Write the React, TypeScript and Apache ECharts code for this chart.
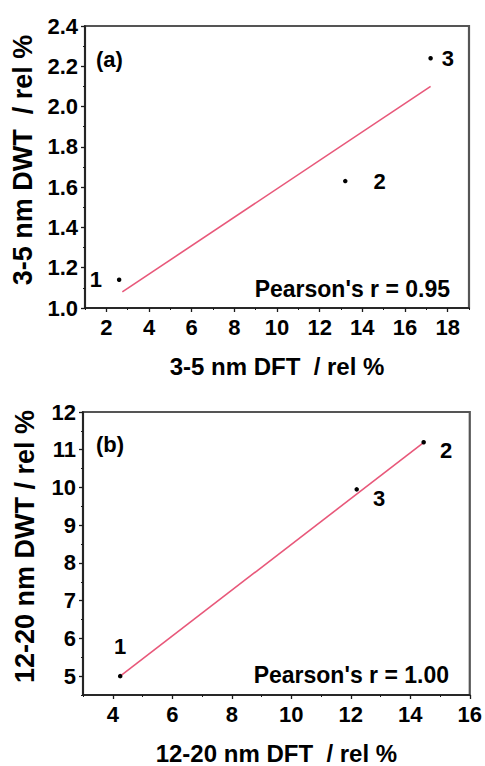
import React, { useEffect, useRef } from "react";
import * as echarts from "echarts";

// ---- Panel (a): 3-5 nm ----
const pointsA: [number, number][] = [
  [2.6, 1.14],
  [13.2, 1.63],
  [17.2, 2.24],
];
const pointNamesA = ["1", "2", "3"];
const fitA: [number, number][] = [
  [2.75, 1.08],
  [17.2, 2.1],
];
const xTicksA = [2, 4, 6, 8, 10, 12, 14, 16, 18];
const xMinorA = [1, 3, 5, 7, 9, 11, 13, 15, 17, 19];
const yRangeA = [1.0, 2.4];
const yStepA = 0.2;
const pearsonA = "Pearson's r = 0.95";

// ---- Panel (b): 12-20 nm ----
const pointsB: [number, number][] = [
  [4.25, 5.0],
  [14.45, 11.2],
  [12.2, 9.95],
];
const pointNamesB = ["1", "2", "3"];
const fitB: [number, number][] = [
  [4.25, 5.0],
  [14.5, 11.22],
];
const xTicksB = [4, 6, 8, 10, 12, 14, 16];
const xMinorB = [3, 5, 7, 9, 11, 13, 15];
const yTicksB = [5, 6, 7, 8, 9, 10, 11, 12];
const yMinorB = [4.5, 5.5, 6.5, 7.5, 8.5, 9.5, 10.5, 11.5];
const pearsonB = "Pearson's r = 1.00";

const FONT = "'Liberation Sans', Arial, Helvetica, sans-serif";
const TXT = "#000";
const AXIS = "#1a1a1a";
const FRAME = "#555";
const FIT = "#e8587a";

// label placements (style only)
const labelPlaceA = [
  { position: "left", distance: 15, offset: [0, 0] },
  { position: "right", distance: 26, offset: [0, 0] },
  { position: "right", distance: 9, offset: [0, 0] },
];
const labelPlaceB = [
  { position: "top", distance: 16, offset: [0, 0] },
  { position: "right", distance: 14, offset: [0, 8] },
  { position: "right", distance: 14, offset: [0, 9] },
];

const noBorder = { textBorderWidth: 0, textBorderColor: "transparent", textShadowBlur: 0, textShadowColor: "transparent" };
const boldRich = {
  b: { fontFamily: FONT, fontWeight: "bold", fontSize: 22, color: TXT, opacity: 1, ...noBorder },
};
const xNameStyle = { fontFamily: FONT, fontWeight: 700, fontSize: 24, color: TXT };
const yNameStyle = { fontFamily: FONT, fontWeight: 700, fontSize: 27, color: TXT, padding: [0, 0, 0, 14] };
const axisLabelBase = {
  color: TXT,
  opacity: 1,
  fontFamily: FONT,
  fontWeight: "bold",
  fontSize: 22,
  ...noBorder,
  rich: boldRich,
};

function mainX(gridIndex: number, min: number, max: number, ticks: number[], name: string) {
  return {
    type: "value",
    gridIndex,
    min,
    max,
    position: "bottom",
    name,
    nameLocation: "middle",
    nameGap: 46,
    nameTextStyle: xNameStyle,
    axisLine: { show: true, lineStyle: { color: AXIS, width: 1.6 } },
    axisTick: { show: true, customValues: ticks, length: 4, lineStyle: { color: AXIS, width: 1.3 } },
    axisLabel: {
      ...axisLabelBase,
      customValues: ticks,
      margin: 8,
      formatter: (v: number) => `{b|${v}}`,
    },
    splitLine: { show: false },
  };
}
function minorX(gridIndex: number, min: number, max: number, ticks: number[]) {
  return {
    type: "value",
    gridIndex,
    min,
    max,
    position: "bottom",
    axisLine: { show: false },
    axisTick: { show: true, customValues: ticks, length: 2, lineStyle: { color: AXIS, width: 1 } },
    axisLabel: { show: false },
    splitLine: { show: false },
  };
}

export default function App() {
  const ref = useRef<HTMLDivElement>(null);
  useEffect(() => {
    document.body.style.margin = "0";
    if (!ref.current) return;
    const chart = echarts.init(ref.current, undefined, { renderer: "svg" });

    const mkScatter = (
      pts: [number, number][],
      names: string[],
      place: any[],
      xi: number,
      yi: number
    ) => ({
      type: "scatter",
      xAxisIndex: xi,
      yAxisIndex: yi,
      symbolSize: 4.5,
      itemStyle: { color: "#000", opacity: 1 },
      z: 5,
      data: pts.map((p, i) => ({
        value: p,
        label: {
          show: true,
          formatter: `{b|${names[i]}}`,
          rich: boldRich,
          position: place[i].position,
          distance: place[i].distance,
          offset: place[i].offset,
          color: TXT,
        },
      })),
    });

    const mkLine = (pts: [number, number][], xi: number, yi: number) => ({
      type: "line",
      xAxisIndex: xi,
      yAxisIndex: yi,
      data: pts,
      showSymbol: false,
      symbol: "none",
      lineStyle: { color: FIT, width: 1.6 },
      z: 3,
    });

    chart.setOption({
      animation: false,
      backgroundColor: "#fff",
      textStyle: { fontFamily: FONT, fontWeight: 700, color: TXT },
      grid: [
        { left: 85, top: 26, width: 384, height: 282, show: true, borderColor: FRAME, borderWidth: 2.2 },
        { left: 83, top: 412, width: 387, height: 283, show: true, borderColor: FRAME, borderWidth: 2.2 },
      ],
      xAxis: [
        mainX(0, 1, 19, xTicksA, "3-5 nm DFT  / rel %"),
        minorX(0, 1, 19, xMinorA),
        mainX(1, 3, 16, xTicksB, "12-20 nm DFT  / rel %"),
        minorX(1, 3, 16, xMinorB),
      ],
      yAxis: [
        {
          type: "value",
          gridIndex: 0,
          min: yRangeA[0],
          max: yRangeA[1],
          interval: yStepA,
          name: "3-5 nm DWT  / rel %",
          nameLocation: "middle",
          nameGap: 49,
          nameTextStyle: yNameStyle,
          axisLine: { show: true, lineStyle: { color: AXIS, width: 1.6 } },
          axisTick: { show: true, length: 4, lineStyle: { color: AXIS, width: 1.3 } },
          minorTick: { show: true, splitNumber: 2, length: 2, lineStyle: { color: AXIS, width: 1 } },
          axisLabel: {
            ...axisLabelBase,
            margin: 7,
            formatter: (v: number) => `{b|${v.toFixed(1)}}`,
          },
          splitLine: { show: false },
          minorSplitLine: { show: false },
        },
        {
          type: "value",
          gridIndex: 1,
          min: 4.5,
          max: 12,
          name: "12-20 nm DWT / rel %",
          nameLocation: "middle",
          nameGap: 45,
          nameTextStyle: yNameStyle,
          axisLine: { show: true, lineStyle: { color: AXIS, width: 1.6 } },
          axisTick: { show: true, customValues: yTicksB, length: 4, lineStyle: { color: AXIS, width: 1.3 } },
          axisLabel: {
            ...axisLabelBase,
            customValues: yTicksB,
            margin: 7,
            formatter: (v: number) => `{b|${v}}`,
          },
          splitLine: { show: false },
        },
        {
          type: "value",
          gridIndex: 1,
          min: 4.5,
          max: 12,
          position: "left",
          axisLine: { show: false },
          axisTick: { show: true, customValues: yMinorB, length: 2, lineStyle: { color: AXIS, width: 1 } },
          axisLabel: { show: false },
          splitLine: { show: false },
        },
      ],
      series: [
        mkLine(fitA, 0, 0),
        mkScatter(pointsA, pointNamesA, labelPlaceA, 0, 0),
        mkLine(fitB, 2, 1),
        mkScatter(pointsB, pointNamesB, labelPlaceB, 2, 1),
      ],
      graphic: [
        { type: "text", left: 96, top: 48, style: { text: "(a)", font: `bold 22px ${FONT}`, fill: TXT } },
        { type: "text", left: 96, top: 433, style: { text: "(b)", font: `bold 22px ${FONT}`, fill: TXT } },
        {
          type: "text",
          right: 485 - 450,
          top: 277,
          style: { text: pearsonA, font: `bold 23px ${FONT}`, fill: TXT },
        },
        {
          type: "text",
          right: 485 - 449,
          top: 663,
          style: { text: pearsonB, font: `bold 23px ${FONT}`, fill: TXT },
        },
      ],
    });
    return () => chart.dispose();
  }, []);
  return <div ref={ref} style={{ width: 485, height: 766 }} />;
}
